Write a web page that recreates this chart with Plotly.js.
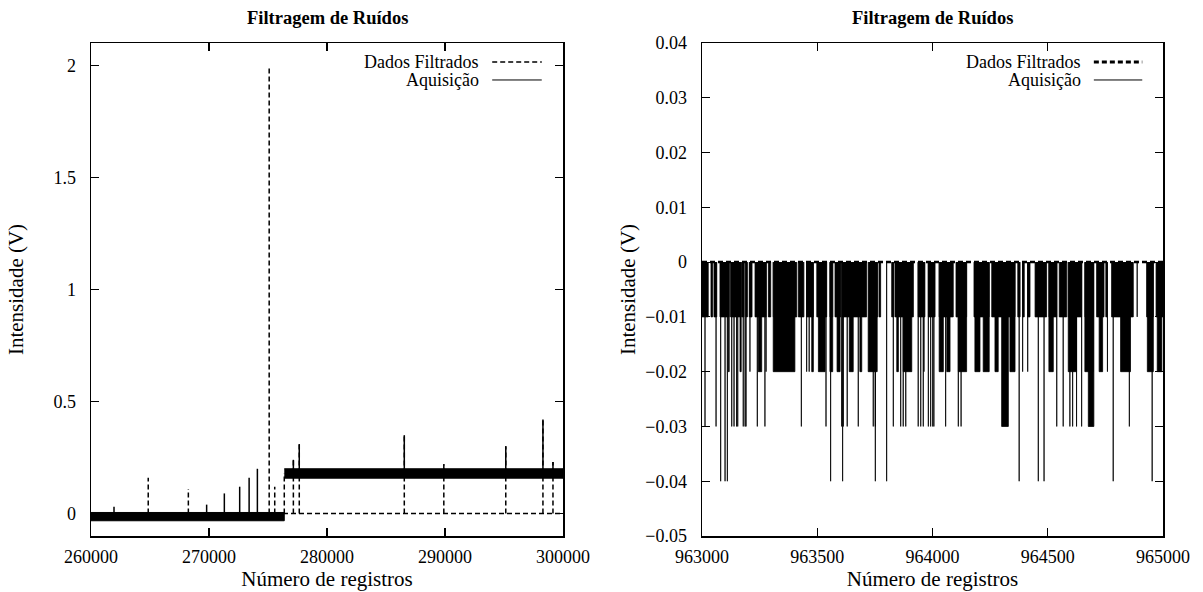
<!DOCTYPE html>
<html>
<head>
<meta charset="utf-8">
<script src="https://cdn.plot.ly/plotly-3.0.1.min.js"></script>
<style>
  html, body { margin: 0; padding: 0; background: #fff; }
  #chart { width: 1203px; height: 592px; }
</style>
</head>
<body>
<div id="chart"></div>
<script>
// ---------- Labels ----------
const chartTitle = "Filtragem de Ruídos";
const xTitle = "Número de registros";
const yTitle = "Intensidade (V)";
const seriesNames = ["Dados Filtrados", "Aquisição"];

// ---------- Left panel data ----------
const leftXTicks = [260000, 270000, 280000, 290000, 300000];
const leftXTickText = ["260000", "270000", "280000", "290000", "300000"];
const leftYTicks = [0, 0.5, 1, 1.5, 2];
const leftYTickText = ["0", "0.5", "1", "1.5", "2"];

// Dense acquisition noise bands (start, end, low, high)
const leftBandStart = [260000, 276380];
const leftBandEnd = [276380, 300000];
const leftBandLow = [-0.032, 0.158];
const leftBandHigh = [0.005, 0.2];

// Acquisition spikes (rising from the band)
const leftAcqSpikeX = [261950, 269800, 271300, 272600, 273400, 274100, 277150, 277650, 286550, 289900, 295150, 298300, 299150];
const leftAcqSpikeY = [0.03, 0.04, 0.09, 0.12, 0.16, 0.20, 0.24, 0.31, 0.35, 0.22, 0.30, 0.42, 0.23];

// Filtered data: baseline 0 with spikes
const leftFiltBaseX = [260000, 300000];
const leftFiltBaseY = [0, 0];
const leftFiltSpikeX = [264850, 268250, 275100, 275570, 276380, 277150, 277650, 286550, 289900, 295150, 298300, 299150];
const leftFiltSpikeY = [0.16, 0.11, 2.0, 0.12, 0.18, 0.24, 0.31, 0.35, 0.22, 0.30, 0.42, 0.23];

// ---------- Right panel data ----------
const rightXTicks = [963000, 963500, 964000, 964500, 965000];
const rightXTickText = ["963000", "963500", "964000", "964500", "965000"];
const rightYTicks = [0.04, 0.03, 0.02, 0.01, 0, -0.01, -0.02, -0.03, -0.04, -0.05];
const rightYTickText = ["0.04", "0.03", "0.02", "0.01", "0", "\u22120.01", "\u22120.02", "\u22120.03", "\u22120.04", "\u22120.05"];

// Acquisition drops below 0: segment start, end, depth
const rightSegStart = [
  963000,963039,963052,963078,963124,963172,963191,963205,963230,963288,963309,963418,963454,963498,963555,963577,963609,963693,963726,963768,963823,963837,963884,963938,963982,964029,964102,964180,964257,964285,964350,964370,964391,964413,964445,964505,964550,964589,964661,964712,964752,964777,964825,964888,964929,964970,
  963114,963165,963208,963244,963278,963309,963454,963465,963476,963505,963555,963586,963639,963685,963721,963845,963873,963963,964029,964062,964112,964184,964220,964271,964336,964391,964413,964505,964589,964661,964723,964759,964816,964932,964975,
  963013,963061,963129,963139,963150,963155,963179,963187,963191,963240,963273,963431,963538,963606,963613,963630,963678,963743,963752,963830,963862,963873,963884,963938,963949,963960,963982,963992,964001,964006,964057,964112,964124,964300,964539,964567,964596,964608,964625,964647,964676,964854,
  963081,963100,963110,963558,963610,963752,963801,964376,964459,964484,964784,964953
];
const rightSegEnd = [
  963027,963046,963064,963118,963165,963182,963197,963217,963278,963298,963411,963442,963483,963541,963567,963602,963688,963714,963762,963775,963830,963876,963917,963967,964011,964090,964148,964246,964278,964343,964358,964380,964398,964423,964495,964539,964582,964647,964697,964744,964757,964819,964871,964888,964958,965000,
  963118,963170,963208,963259,963278,963403,963454,963465,963483,963534,963567,963599,963656,963693,963760,963852,963910,963963,964047,964076,964148,964206,964246,964285,964358,964391,964413,964524,964625,964697,964738,964759,964859,964958,964995,
  963013,963061,963129,963139,963150,963155,963179,963187,963191,963240,963273,963431,963538,963606,963613,963630,963678,963743,963752,963830,963862,963873,963884,963938,963949,963960,963982,963992,964001,964006,964057,964112,964124,964329,964539,964567,964596,964608,964625,964647,964700,964854,
  963081,963100,963110,963558,963610,963752,963801,964376,964459,964484,964784,964953
];
const rightSegDepth = [
  -0.01,-0.01,-0.01,-0.01,-0.01,-0.01,-0.01,-0.01,-0.01,-0.01,-0.01,-0.01,-0.01,-0.01,-0.01,-0.01,-0.01,-0.01,-0.01,-0.01,-0.01,-0.01,-0.01,-0.01,-0.01,-0.01,-0.01,-0.01,-0.01,-0.01,-0.01,-0.01,-0.01,-0.01,-0.01,-0.01,-0.01,-0.01,-0.01,-0.01,-0.01,-0.01,-0.01,-0.01,-0.01,-0.01,
  -0.02,-0.02,-0.02,-0.02,-0.02,-0.02,-0.02,-0.02,-0.02,-0.02,-0.02,-0.02,-0.02,-0.02,-0.02,-0.02,-0.02,-0.02,-0.02,-0.02,-0.02,-0.02,-0.02,-0.02,-0.02,-0.02,-0.02,-0.02,-0.02,-0.02,-0.02,-0.02,-0.02,-0.02,-0.02,
  -0.03,-0.03,-0.03,-0.03,-0.03,-0.03,-0.03,-0.03,-0.03,-0.03,-0.03,-0.03,-0.03,-0.03,-0.03,-0.03,-0.03,-0.03,-0.03,-0.03,-0.03,-0.03,-0.03,-0.03,-0.03,-0.03,-0.03,-0.03,-0.03,-0.03,-0.03,-0.03,-0.03,-0.03,-0.03,-0.03,-0.03,-0.03,-0.03,-0.03,-0.03,-0.03,
  -0.04,-0.04,-0.04,-0.04,-0.04,-0.04,-0.04,-0.04,-0.04,-0.04,-0.04,-0.04
];
const rightFiltX = [963000, 965000];
const rightFiltY = [0, 0];

// ---------- Build traces ----------
const FONT = "Liberation Serif, Times New Roman, serif";

function bandPolys(starts, ends, lows, highs) {
  const x = [], y = [];
  for (let i = 0; i < starts.length; i++) {
    x.push(starts[i], ends[i], ends[i], starts[i], null);
    y.push(lows[i], lows[i], highs[i], highs[i], null);
  }
  return {x, y};
}
function spikes(xs, ys, baseFn) {
  const x = [], y = [];
  for (let i = 0; i < xs.length; i++) {
    x.push(xs[i], xs[i], null);
    y.push(baseFn(xs[i]), ys[i], null);
  }
  return {x, y};
}
function baseAt(xv) {
  for (let i = 0; i < leftBandStart.length; i++) {
    if (xv >= leftBandStart[i] && xv <= leftBandEnd[i]) return (leftBandLow[i] + leftBandHigh[i]) / 2;
  }
  return 0;
}

const band = bandPolys(leftBandStart, leftBandEnd, leftBandLow, leftBandHigh);
const acqSp = spikes(leftAcqSpikeX, leftAcqSpikeY, baseAt);
const filtSp = spikes(leftFiltSpikeX, leftFiltSpikeY, () => 0);

const segs = (function () {
  const x = [], y = [];
  for (let i = 0; i < rightSegStart.length; i++) {
    x.push(rightSegStart[i], rightSegStart[i], rightSegEnd[i], rightSegEnd[i], null);
    y.push(0, rightSegDepth[i], rightSegDepth[i], 0, null);
  }
  return {x, y};
})();

const dashThin = "5px,3px";

const traces = [
  {x: leftFiltBaseX, y: leftFiltBaseY, mode: "lines", name: seriesNames[0], showlegend: false,
   line: {color: "#000", width: 1.5, dash: dashThin}, xaxis: "x", yaxis: "y", hoverinfo: "skip"},
  {x: filtSp.x, y: filtSp.y, mode: "lines", name: seriesNames[0], showlegend: false,
   line: {color: "#000", width: 1.5, dash: dashThin}, xaxis: "x", yaxis: "y", hoverinfo: "skip"},
  {x: band.x, y: band.y, mode: "lines", name: seriesNames[1], showlegend: false, fill: "toself",
   fillcolor: "#000", line: {color: "#000", width: 1}, xaxis: "x", yaxis: "y", hoverinfo: "skip"},
  {x: acqSp.x, y: acqSp.y, mode: "lines", name: seriesNames[1], showlegend: false,
   line: {color: "#000", width: 1.5}, xaxis: "x", yaxis: "y", hoverinfo: "skip"},
  {x: segs.x, y: segs.y, mode: "lines", name: seriesNames[1], showlegend: false, fill: "toself",
   fillcolor: "#000", line: {color: "#000", width: 0.8}, xaxis: "x2", yaxis: "y2", hoverinfo: "skip"},
  {x: rightFiltX, y: rightFiltY, mode: "lines", name: seriesNames[0], showlegend: false,
   line: {color: "#000", width: 2.5, dash: dashThin}, xaxis: "x2", yaxis: "y2", hoverinfo: "skip"}
];

const axisCommon = {
  showline: true, linecolor: "#000", linewidth: 1.5, mirror: "allticks",
  ticks: "inside", ticklen: 8, tickwidth: 1.2, tickcolor: "#000",
  showgrid: false, zeroline: false, tickfont: {family: FONT, size: 18, color: "#000"},
  fixedrange: true
};

const yDom = [56/592, 549/592];
const layout = {
  width: 1203, height: 592,
  margin: {l: 0, r: 0, t: 0, b: 0},
  paper_bgcolor: "#fff", plot_bgcolor: "#fff",
  showlegend: false,
  font: {family: FONT, color: "#000"},
  xaxis: Object.assign({}, axisCommon, {
    domain: [91/1203, 563/1203], range: [260000, 300000], anchor: "y",
    tickmode: "array", tickvals: leftXTicks, ticktext: leftXTickText, ticklabelstandoff: 4,
    title: {text: xTitle, font: {family: FONT, size: 21, color: "#000"}, standoff: 2}
  }),
  yaxis: Object.assign({}, axisCommon, {
    domain: yDom, range: [-0.1, 2.1], anchor: "x",
    tickmode: "array", tickvals: leftYTicks, ticktext: leftYTickText, ticklabelstandoff: 10,
    title: {text: yTitle, font: {family: FONT, size: 21, color: "#000"}, standoff: 24}
  }),
  xaxis2: Object.assign({}, axisCommon, {
    domain: [702/1203, 1163/1203], range: [963000, 965000], anchor: "y2",
    tickmode: "array", tickvals: rightXTicks, ticktext: rightXTickText, ticklabelstandoff: 4,
    title: {text: xTitle, font: {family: FONT, size: 21, color: "#000"}, standoff: 2}
  }),
  yaxis2: Object.assign({}, axisCommon, {
    domain: yDom, range: [-0.05, 0.04], anchor: "x2",
    tickmode: "array", tickvals: rightYTicks, ticktext: rightYTickText, ticklabelstandoff: 10,
    title: {text: yTitle, font: {family: FONT, size: 21, color: "#000"}, standoff: 4}
  }),
  annotations: [],
  shapes: []
};

// Titles
["x", "x2"].forEach(function (ax) {
  layout.annotations.push({
    text: "<b>" + chartTitle + "</b>", xref: ax + " domain", yref: "paper",
    x: 0.5, y: 1 - 18/592, xanchor: "center", yanchor: "middle", showarrow: false,
    font: {family: FONT, size: 18.5, color: "#000"}
  });
});

// Custom legends (text then line sample, gnuplot style)
const legendY = [0.9615, 0.925];
[["x", "y", 1.5], ["x2", "y2", 3]].forEach(function (p) {
  seriesNames.forEach(function (nm, i) {
    layout.annotations.push({
      text: nm, xref: p[0] + " domain", yref: p[1] + " domain",
      x: 0.826, y: legendY[i], xanchor: "right", yanchor: "middle", showarrow: false,
      font: {family: FONT, size: 18, color: "#000"}
    });
    layout.shapes.push({
      type: "line", xref: p[0] + " domain", yref: p[1] + " domain",
      x0: 0.85, x1: 0.955, y0: legendY[i], y1: legendY[i],
      line: {color: "#000", width: i === 0 ? p[2] : 1, dash: i === 0 ? dashThin : "solid"}
    });
  });
});

Plotly.newPlot("chart", traces, layout, {staticPlot: true, displayModeBar: false});
</script>
</body>
</html>
